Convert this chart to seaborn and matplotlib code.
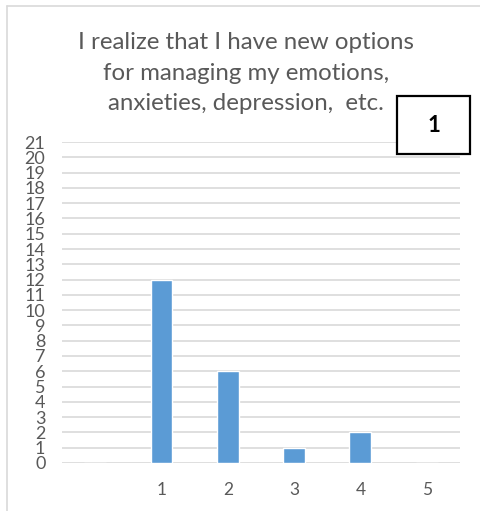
import pandas as pd
import seaborn as sns
from matplotlib import pyplot as plt
from matplotlib.lines import Line2D
from matplotlib.patches import Rectangle

# data
categories = ['', '1', '2', '3', '4', '5']
counts = [0, 12, 6, 1, 2, 0]
title = 'I realize that I have new options\nfor managing my emotions,\nanxieties, depression,  etc.'

df = pd.DataFrame({'cat': categories, 'n': counts})

sns.set_style('white')
plt.rcParams['font.family'] = ['Lato', 'DejaVu Sans']

fig = plt.figure(figsize=(4.81, 5.11), dpi=100)
ax = fig.add_axes([0.129, 0.094, 0.827, 0.628])

sns.barplot(data=df, x='cat', y='n', color='#5B9BD5', saturation=1, width=0.33, ax=ax)

ax.set_ylim(0, 21)
ax.set_yticks(range(0, 22))
ax.yaxis.grid(True, color='#D9D9D9', linewidth=1.2)
ax.set_axisbelow(True)
for s in ax.spines.values():
    s.set_visible(False)
ax.set_xlabel('')
ax.set_ylabel('')
ax.tick_params(axis='y', length=0, pad=12, labelsize=13, labelcolor='#595959')
ax.tick_params(axis='x', length=0, pad=14, labelsize=12.5, labelcolor='#595959')

fig.text(0.512, 1 - 73/511, title, ha='center', va='center', fontsize=17.3,
         color='#595959', linespacing=1.58)

# numbered box
fig.add_artist(Rectangle((397/481, 1 - 154/511), 73/481, 58/511,
                         transform=fig.transFigure, fc='white', ec='black', lw=1.6))
fig.text(433.5/481, 1 - 125/511, '1', ha='center', va='center', fontsize=16,
         fontweight='bold', color='black')

# outer frame (top and left)
fig.add_artist(Line2D([7/481, 1], [1 - 6.5/511] * 2, color='#D9D9D9', lw=1.2))
fig.add_artist(Line2D([7.5/481] * 2, [0, 1 - 6.5/511], color='#D9D9D9', lw=1.2))

fig.savefig('out.png', dpi=100)
